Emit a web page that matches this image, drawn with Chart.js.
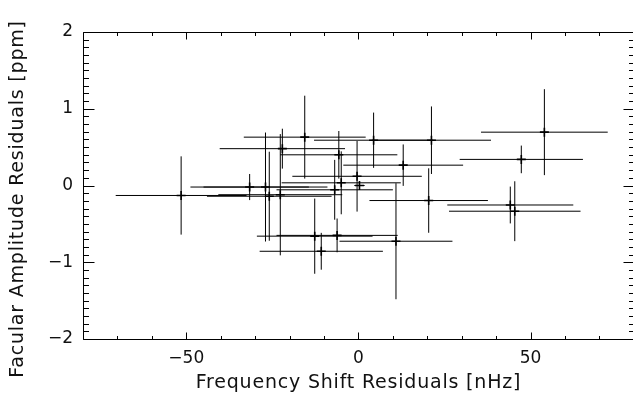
<!DOCTYPE html>
<html>
<head>
<meta charset="utf-8">
<script src="https://cdn.jsdelivr.net/npm/chart.js@4/dist/chart.umd.min.js"></script>
<style>
  html, body { margin: 0; padding: 0; background: #fff; overflow: hidden; }
  #plot { display: block; }
</style>
</head>
<body>
<canvas id="plot" width="640" height="400"></canvas>
<script>
// ---------- data ----------
// frequency shift residuals [nHz] and their errors
const freqShift    = [-51.5, -31.6, -27.0, -25.9, -22.7, -22.1, -15.6, -5.7, -5.0, -6.9, -0.4, 0.3,
                      4.4, 21.2, 13.0, 20.4, 54.0, 47.3, 44.1, 45.4, 10.9, -12.7, -10.8, -6.2];
const freqShiftErr = [19.0, 17.2, 18.0, 18.1, 18.0, 18.2, 17.7, 17.0, 17.3, 16.9, 18.8, 1.5,
                      17.3, 17.3, 17.4, 17.2, 18.4, 17.9, 18.3, 19.1, 16.4, 16.8, 17.9, 17.6];
// facular amplitude residuals [ppm] and their errors
const facAmp       = [-0.13, -0.02, -0.02, -0.14, -0.12, 0.48, 0.63, 0.40, 0.035, -0.056, 0.12, 0.0,
                      0.59, 0.59, 0.265, -0.196, 0.695, 0.34, -0.254, -0.335, -0.726, -0.66, -0.857, -0.65];
const facAmpErr    = [0.51, 0.17, 0.71, 0.58, 0.79, 0.26, 0.54, 0.31, 0.41, 0.39, 0.46, 0.03,
                      0.36, 0.44, 0.27, 0.42, 0.56, 0.18, 0.24, 0.39, 0.756, 0.49, 0.24, 0.22];

const X_TICKS = [-50, 0, 50];
const Y_TICKS = [-2, -1, 0, 1, 2];
const X_RANGE = [-80, 80];
const Y_RANGE = [-2, 2];
const X_TITLE = 'Frequency Shift Residuals [nHz]';
const Y_TITLE = 'Facular Amplitude Residuals [ppm]';

const FONT = "'DejaVu Sans', sans-serif";
const INK = '#111';

// IDL style minus sign
const fmt = (v) => (v < 0 ? '\u2212' + Math.abs(v) : String(v));

// ---------- plugins ----------
// x / y error bars, drawn under the '+' symbols
const errorBars = {
  id: 'errorBars',
  beforeDatasetsDraw(chart) {
    const { ctx, scales: { x, y } } = chart;
    ctx.save();
    ctx.strokeStyle = '#000';
    ctx.lineWidth = 1;
    ctx.beginPath();
    for (let i = 0; i < freqShift.length; i++) {
      const px = x.getPixelForValue(freqShift[i]);
      const py = y.getPixelForValue(facAmp[i]);
      ctx.moveTo(x.getPixelForValue(freqShift[i] - freqShiftErr[i]), py);
      ctx.lineTo(x.getPixelForValue(freqShift[i] + freqShiftErr[i]), py);
      ctx.moveTo(px, y.getPixelForValue(facAmp[i] - facAmpErr[i]));
      ctx.lineTo(px, y.getPixelForValue(facAmp[i] + facAmpErr[i]));
    }
    ctx.stroke();
    ctx.restore();
  },
};

// box round the plot with inward ticks on all four sides, plus axis titles
const idlFrame = {
  id: 'idlFrame',
  afterDraw(chart) {
    const { ctx, chartArea: a, scales: { x, y } } = chart;
    const L = Math.round(a.left) + 0.5, R = Math.round(a.right) + 0.5;
    const T = Math.round(a.top) + 0.5, B = Math.round(a.bottom) + 0.5;
    ctx.save();
    ctx.strokeStyle = '#000';
    ctx.lineWidth = 1;
    ctx.beginPath();
    ctx.rect(L, T, R - L, B - T);
    // x: minor every 10, major every 50
    for (let v = X_RANGE[0]; v <= X_RANGE[1]; v += 10) {
      const px = Math.round(x.getPixelForValue(v)) + 0.5;
      const len = v % 50 === 0 ? 7 : 3.5;
      ctx.moveTo(px, B); ctx.lineTo(px, B - len);
      ctx.moveTo(px, T); ctx.lineTo(px, T + len);
    }
    // y: minor every 0.1, major every 1
    for (let k = Y_RANGE[0] * 10; k <= Y_RANGE[1] * 10; k++) {
      const py = Math.round(y.getPixelForValue(k / 10)) + 0.5;
      const len = k % 10 === 0 ? 11 : 5.5;
      ctx.moveTo(L, py); ctx.lineTo(L + len, py);
      ctx.moveTo(R, py); ctx.lineTo(R - len, py);
    }
    ctx.stroke();

    // axis titles (wide vector-font look)
    ctx.fillStyle = INK;
    ctx.font = `19px ${FONT}`;
    ctx.letterSpacing = '0.8px';
    ctx.textAlign = 'center';
    ctx.textBaseline = 'middle';
    ctx.fillText(X_TITLE, (a.left + a.right) / 2, 383);
    ctx.translate(18, 199);
    ctx.rotate(-Math.PI / 2);
    ctx.fillText(Y_TITLE, 0, 0);
    ctx.restore();
  },
};

// ---------- chart ----------
new Chart(document.getElementById('plot'), {
  type: 'scatter',
  data: {
    datasets: [{
      data: freqShift.map((v, i) => ({ x: v, y: facAmp[i] })),
      pointStyle: 'cross',
      pointRadius: 4.5,
      pointHoverRadius: 4.5,
      borderColor: '#000',
      borderWidth: 1.6,
    }],
  },
  options: {
    responsive: false,
    animation: false,
    devicePixelRatio: 1,
    layout: { padding: { top: 32, right: 5, left: 0, bottom: 0 } },
    plugins: {
      legend: { display: false },
      tooltip: { enabled: false },
    },
    scales: {
      x: {
        type: 'linear',
        min: X_RANGE[0],
        max: X_RANGE[1],
        afterBuildTicks: (s) => { s.ticks = X_TICKS.map((v) => ({ value: v })); },
        afterFit: (s) => { s.height = 61; },
        grid: { display: false, drawTicks: false },
        border: { display: false },
        ticks: {
          color: INK,
          font: { family: FONT, size: 17 },
          padding: 9,
          maxRotation: 0,
          callback: fmt,
        },
      },
      y: {
        type: 'linear',
        min: Y_RANGE[0],
        max: Y_RANGE[1],
        afterBuildTicks: (s) => { s.ticks = Y_TICKS.map((v) => ({ value: v })); },
        afterFit: (s) => { s.width = 83; },
        grid: { display: false, drawTicks: false },
        border: { display: false },
        ticks: {
          color: INK,
          font: { family: FONT, size: 17 },
          padding: 10,
          callback: fmt,
        },
      },
    },
  },
  plugins: [errorBars, idlFrame],
});
</script>
</body>
</html>
